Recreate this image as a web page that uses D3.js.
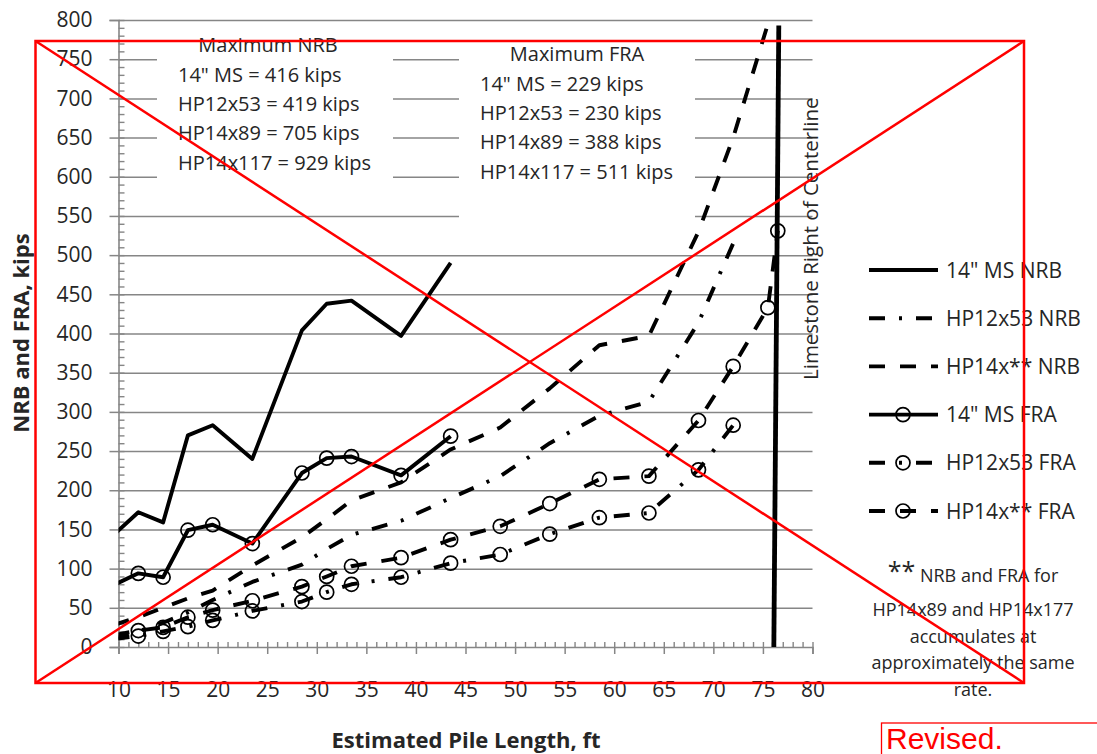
<!DOCTYPE html>
<html>
<head>
<meta charset="utf-8">
<script src="https://cdn.jsdelivr.net/npm/d3@7"></script>
<style>
  body { margin: 0; background: #fff; }
  text { font-family: "Open Sans", sans-serif; fill: #262626; }
</style>
</head>
<body>
<main></main>
<script>
const width = 1097;
const height = 754;

// pile lengths (ft) where values were read; first one sits just left of the axis
const pileLength = [9.5, 12, 14.5, 17, 19.5, 23.5, 28.5, 31, 33.5, 38.5, 43.5, 48.5, 53.5, 58.5, 63.5, 68.5, 72, 75.5, 76.5];

const msNRB   = [143, 172, 159, 270, 283, 240, 404, 438, 442, 397, 490];
const hp12NRB = [10, 20, 31, 44, 60, 83, 105, 125, 143, 161, 190, 218, 260, 295, 313, 414, 515];
const hp14NRB = [28, 38, 50, 62, 72, 104, 140, 163, 187, 210, 252, 280, 330, 385, 397, 530, 650, 795, 929];
const msFRA   = [79, 94, 89, 149, 156, 132, 222, 241, 243, 219, 269];
const hp12FRA = [10, 14, 20, 26, 34, 46, 58, 70, 80, 89, 107, 118, 144, 165, 171, 226, 283];
const hp14FRA = [15, 21, 25, 38, 47, 59, 77, 90, 103, 114, 137, 154, 183, 214, 218, 289, 358, 433, 531];

const seriesNames = ['14" MS NRB', 'HP12x53 NRB', 'HP14x** NRB', '14" MS FRA', 'HP12x53 FRA', 'HP14x** FRA'];

// limestone line (two ends)
const limestoneX = [76.1, 76.6];
const limestoneY = [0, 793];

const xTicks = [10, 15, 20, 25, 30, 35, 40, 45, 50, 55, 60, 65, 70, 75, 80];
const yTicks = [0, 50, 100, 150, 200, 250, 300, 350, 400, 450, 500, 550, 600, 650, 700, 750, 800];

const nrbNote = ['Maximum NRB', '14" MS = 416 kips', 'HP12x53 = 419 kips', 'HP14x89 = 705 kips', 'HP14x117 = 929 kips'];
const fraNote = ['Maximum FRA', '14" MS = 229 kips', 'HP12x53 = 230 kips', 'HP14x89 = 388 kips', 'HP14x117 = 511 kips'];
const footNote = ['NRB and FRA for', 'HP14x89 and HP14x177', 'accumulates at', 'approximately the same', 'rate.'];

const dashDot = '16,14,3,14';
const longDash = '16,15';
const styles = [null, dashDot, longDash, null, dashDot, longDash];
const hasMarker = [false, false, false, true, true, true];

const x = d3.scaleLinear().domain([10, 80]).range([118.5, 812.5]);
const y = d3.scaleLinear().domain([0, 800]).range([647, 20]);

const svg = d3.select('main')
              .append('svg')
              .attr('width', width)
              .attr('height', height);

svg.append('rect').attr('width', width).attr('height', height).attr('fill', '#fff');

svg.append('clipPath').attr('id', 'plot')
   .append('rect')
   .attr('x', x(10)).attr('y', y(800))
   .attr('width', x(80) - x(10)).attr('height', y(0) - y(800));

const gray = '#868686';

// gridlines
const grid = svg.append('g')
   .attr('transform', `translate(${x(10)},0)`)
   .call(d3.axisLeft(y).tickValues(yTicks.filter(v => v > 0)).tickSize(-(x(80) - x(10))).tickFormat(''));
grid.select('.domain').remove();
grid.selectAll('line').attr('stroke', gray).attr('stroke-width', 1.5);

// white boxes behind the two notes
svg.append('rect').attr('x', 157).attr('y', 25).attr('width', 236).attr('height', 180).attr('fill', '#fff');
svg.append('rect').attr('x', 459).attr('y', 25).attr('width', 236).attr('height', 200).attr('fill', '#fff');

// y axis
const yAxis = svg.append('g')
   .attr('transform', `translate(${x(10)},0)`)
   .call(d3.axisLeft(y).tickValues(yTicks).tickSize(9).tickPadding(17));
yAxis.select('.domain').attr('stroke', gray).attr('stroke-width', 1.6);
yAxis.selectAll('line').attr('stroke', gray).attr('stroke-width', 1.5);
yAxis.selectAll('text').style('font-size', '21px').style('font-family', '"Open Sans", sans-serif').attr('fill', '#2b2b2b');

const yMinor = svg.append('g')
   .attr('transform', `translate(${x(10)},0)`)
   .call(d3.axisRight(y).tickValues(d3.range(0, 801, 10)).tickSize(6).tickFormat(''));
yMinor.select('.domain').remove();
yMinor.selectAll('line').attr('stroke', gray).attr('stroke-width', 1.4);

// x axis
const xAxis = svg.append('g')
   .attr('transform', `translate(0,${y(0)})`)
   .call(d3.axisBottom(x).tickValues(xTicks).tickSize(7).tickPadding(28));
xAxis.select('.domain').attr('stroke', gray).attr('stroke-width', 1.6);
xAxis.selectAll('line').attr('stroke', gray).attr('stroke-width', 1.5);
xAxis.selectAll('text').style('font-size', '21px').style('font-family', '"Open Sans", sans-serif').attr('fill', '#2b2b2b');

const xMinor = svg.append('g')
   .attr('transform', `translate(0,${y(0)})`)
   .call(d3.axisTop(x).tickValues(d3.range(10, 81, 1)).tickSize(5).tickFormat(''));
xMinor.select('.domain').remove();
xMinor.selectAll('line').attr('stroke', gray).attr('stroke-width', 1.4);

// series
const allSeries = [msNRB, hp12NRB, hp14NRB, msFRA, hp12FRA, hp14FRA];
const line = d3.line().x(d => x(d[0])).y(d => y(d[1]));
const plot = svg.append('g').attr('clip-path', 'url(#plot)');

allSeries.forEach((vals, i) => {
    const pts = vals.map((v, k) => [pileLength[k], v]);
    plot.append('path')
        .datum(pts)
        .attr('d', line)
        .attr('fill', 'none')
        .attr('stroke', '#000')
        .attr('stroke-width', 3.9)
        .attr('stroke-linejoin', 'round')
        .attr('stroke-dasharray', styles[i]);
    if (hasMarker[i]) {
        svg.append('g').selectAll('circle')
           .data(pts.filter(d => d[0] >= 10))
           .enter()
           .append('circle')
           .attr('cx', d => x(d[0]))
           .attr('cy', d => y(d[1]))
           .attr('r', 7)
           .attr('fill', 'none')
           .attr('stroke', '#000')
           .attr('stroke-width', 1.7);
    }
});

// limestone line
plot.append('path')
    .datum(limestoneX.map((v, k) => [v, limestoneY[k]]))
    .attr('d', line)
    .attr('stroke', '#000')
    .attr('stroke-width', 4.8);

svg.append('text')
   .attr('transform', 'translate(818,380) rotate(-90)')
   .style('font-size', '20.5px')
   .text('Limestone Right of Centerline');

// notes
const noteBlock = (lines, left, titleX, ys) => {
    lines.forEach((t, i) => {
        svg.append('text')
           .attr('x', i === 0 ? titleX : left)
           .attr('y', ys[i])
           .attr('dy', '0.36em')
           .attr('text-anchor', i === 0 ? 'middle' : 'start')
           .style('font-size', '20px')
           .text(t);
    });
};
noteBlock(nrbNote, 178, 268, [45, 75, 104, 133, 163]);
noteBlock(fraNote, 480, 577, [54, 84, 113, 142, 172]);

// legend
const legend = svg.append('g');
seriesNames.forEach((name, i) => {
    const ly = 270 + i * 48.2;
    legend.append('line')
          .attr('x1', 869).attr('x2', 938)
          .attr('y1', ly).attr('y2', ly)
          .attr('stroke', '#000')
          .attr('stroke-width', 3.9)
          .attr('stroke-dasharray', styles[i]);
    if (hasMarker[i]) {
        legend.append('circle')
              .attr('cx', 903).attr('cy', ly).attr('r', 7)
              .attr('fill', 'none').attr('stroke', '#000').attr('stroke-width', 1.7);
    }
    legend.append('text')
          .attr('x', 946).attr('y', ly).attr('dy', '0.36em')
          .style('font-size', '21px')
          .text(name);
});

// footnote
const foot = svg.append('g');
const first = foot.append('text').attr('x', 973).attr('y', 582).attr('dy', '0.36em')
                  .attr('text-anchor', 'middle').style('font-size', '18px');
first.append('tspan').style('font-size', '25px').attr('dy', '-2').text('**');
first.append('tspan').attr('dy', '2').text(' ' + footNote[0]);
footNote.slice(1).forEach((t, i) => {
    foot.append('text')
        .attr('x', 973).attr('y', 610 + i * 26.5).attr('dy', '0.36em')
        .attr('text-anchor', 'middle')
        .style('font-size', '18px')
        .text(t);
});

// axis titles
svg.append('text')
   .attr('x', 466).attr('y', 748)
   .attr('text-anchor', 'middle')
   .style('font-size', '22px').style('font-weight', 'bold')
   .text('Estimated Pile Length, ft');

svg.append('text')
   .attr('transform', 'translate(29,333) rotate(-90)')
   .attr('text-anchor', 'middle')
   .style('font-size', '22px').style('font-weight', 'bold')
   .text('NRB and FRA, kips');

// red cross-out overlay
const red = '#ff0000';
const over = svg.append('g').attr('stroke', red).attr('stroke-width', 2.5).attr('fill', 'none');
over.append('rect').attr('x', 35.5).attr('y', 41).attr('width', 988.5).attr('height', 642);
over.append('line').attr('x1', 35.5).attr('y1', 41).attr('x2', 1024).attr('y2', 683);
over.append('line').attr('x1', 35.5).attr('y1', 683).attr('x2', 1024).attr('y2', 41);

svg.append('rect').attr('x', 881.5).attr('y', 723).attr('width', 300).attr('height', 100)
   .attr('fill', 'none').attr('stroke', red).attr('stroke-width', 1.3);
svg.append('text')
   .attr('x', 886).attr('y', 749)
   .style('font-family', '"Liberation Sans", Arial, sans-serif')
   .style('font-size', '30px')
   .style('fill', red)
   .text('Revised.');
</script>
</body>
</html>
